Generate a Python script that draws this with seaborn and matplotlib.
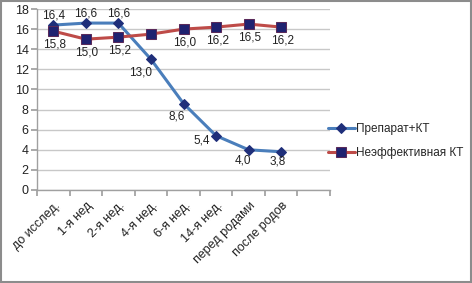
import matplotlib
matplotlib.use("Agg")
import matplotlib.pyplot as plt
import matplotlib.transforms as mtransforms
import seaborn as sns
import pandas as pd
from matplotlib.patches import Rectangle

categories = ["до исслед.", "1-я нед", "2-я нед.", "4-я нед.", "6-я нед.", "14-я нед.", "перед родами", "после родов"]
series_a_name = "Препарат+КТ"
series_b_name = "Неэффективная КТ"
series_a = [16.4, 16.6, 16.6, 13.0, 8.6, 5.4, 4.0, 3.8]
series_b = [15.8, 15.0, 15.2, 15.5, 16.0, 16.2, 16.5, 16.2]
label_b_show = [True, True, True, False, True, True, True, True]
y_ticks = list(range(0, 19, 2))

sns.set_theme(style="white")
plt.rcParams['font.family'] = ['Liberation Sans', 'DejaVu Sans']

pos = list(range(len(categories)))
df = pd.DataFrame({
    "pos": pos * 2,
    "value": series_a + series_b,
    "series": [series_a_name] * len(pos) + [series_b_name] * len(pos),
})

fig = plt.figure(figsize=(4.72, 2.83), dpi=100, facecolor="white")
ax = fig.add_axes([37/472, 1 - 190/283, (330 - 37)/472, (190 - 9)/283])
ax.set_facecolor("white")

blue = "#4A7EBB"
red = "#BE4B48"
navy = "#1F2F7A"

sns.lineplot(data=df[df.series == series_a_name], x="pos", y="value", ax=ax,
             color=blue, lw=2.2, marker="D", markersize=5.5,
             markerfacecolor=navy, markeredgecolor=navy, label=series_a_name)
sns.lineplot(data=df[df.series == series_b_name], x="pos", y="value", ax=ax,
             color=red, lw=2.2, marker="s", markersize=7,
             markerfacecolor="#1F2270", markeredgecolor="#5A2A5A", label=series_b_name)

ax.set_xlim(-0.5, len(categories) + 0.5)
ax.set_ylim(0, 18)
ax.set_yticks(y_ticks)
ax.set_yticklabels([str(t) for t in y_ticks], fontsize=9, color="#222222")
ax.grid(axis="y", color="#C8C8C8", lw=1)
ax.set_axisbelow(True)

# boundary tick marks and centered labels
ax.set_xticks([i - 0.5 for i in range(len(categories) + 2)])
ax.set_xticklabels([])
ax.set_xticks(pos, minor=True)
ax.set_xticklabels(categories, minor=True, rotation=45, ha="right", va="center",
                   rotation_mode="anchor", fontsize=9, color="#222222")
ax.tick_params(axis="x", which="minor", length=0, pad=4)
ax.tick_params(axis="x", which="major", length=4, color="#A0A0A0", direction="out", bottom=True)
ax.tick_params(axis="y", length=4, color="#A0A0A0", direction="out", left=True, pad=2)
shift = mtransforms.ScaledTranslation(5/100, -8/100, fig.dpi_scale_trans)
for lbl in ax.get_xticklabels(minor=True):
    lbl.set_transform(lbl.get_transform() + shift)
ax.set_xlabel("")
ax.set_ylabel("")
for s in ["top", "right"]:
    ax.spines[s].set_visible(False)
for s in ["left", "bottom"]:
    ax.spines[s].set_color("#A0A0A0")
    ax.spines[s].set_linewidth(1)

# data labels
a_offsets = [(0, 10), (0, 10), (0, 10), (-10, -13), (-7, -13), (-14, -5), (-6, -11), (-4, -10)]
for i, (v, off) in enumerate(zip(series_a, a_offsets)):
    ax.annotate(f"{v:.1f}".replace(".", ","), (i, v), xytext=off, textcoords="offset pixels",
                ha="center", va="center", fontsize=8.5, color="#222222")
for i, v in enumerate(series_b):
    if label_b_show[i]:
        ax.annotate(f"{v:.1f}".replace(".", ","), (i, v), xytext=(1, -13), textcoords="offset pixels",
                    ha="center", va="center", fontsize=8.5, color="#222222")

leg = ax.legend(loc="center left", bbox_to_anchor=(322/472, 1 - 141/283),
                bbox_transform=fig.transFigure, frameon=False, fontsize=8.5,
                handlelength=2.3, handletextpad=0.1, labelspacing=1.0, borderpad=0)

fig.patches.append(Rectangle((0.003, 0.003), 0.994, 0.994, transform=fig.transFigure,
                             fill=False, edgecolor="#8C8C8C", lw=1.5))

fig.savefig("out.png", dpi=100, facecolor="white")
